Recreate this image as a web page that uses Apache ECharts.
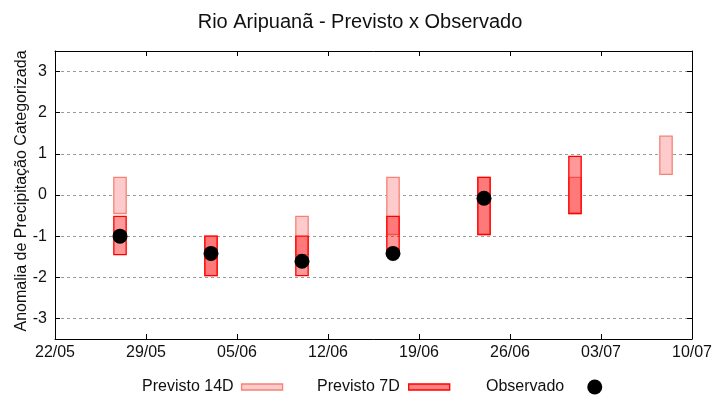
<!DOCTYPE html>
<html>
<head>
<meta charset="utf-8">
<script src="https://cdn.jsdelivr.net/npm/echarts@6/dist/echarts.min.js"></script>
<style>html,body{margin:0;padding:0;background:#fff}#c{width:720px;height:400px}</style>
</head>
<body>
<div id="c"></div>
<script>
// ---- data ----
const startDate = '22/05';
const endDate = '10/07';
const weekDates = ['27/05', '03/06', '10/06', '17/06', '24/06', '01/07', '08/07'];
const prev14Low  = [-0.45, -1.96, -1.45, -0.96, -0.96, -0.45, 0.50];
const prev14High = [ 0.43, -1.00, -0.52,  0.43,  0.43,  0.43, 1.43];
const prev7Low   = [-1.45, -1.96, -1.96, -1.45, -0.96, -0.45, null];
const prev7High  = [-0.52, -1.00, -1.00, -0.52,  0.43,  0.94, null];
const observed   = [-1.00, -1.42, -1.61, -1.42, -0.08, null, null];

const YEAR = 2025;
function toDay(s) {
  const [d, m] = s.split('/').map(Number);
  const t0 = Date.UTC(YEAR, Number(startDate.split('/')[1]) - 1, Number(startDate.split('/')[0]));
  return Math.round((Date.UTC(YEAR, m - 1, d) - t0) / 86400000);
}
function fromDay(n) {
  const [d0, m0] = startDate.split('/').map(Number);
  const dt = new Date(Date.UTC(YEAR, m0 - 1, d0) + n * 86400000);
  return String(dt.getUTCDate()).padStart(2, '0') + '/' + String(dt.getUTCMonth() + 1).padStart(2, '0');
}
const xs = weekDates.map(toDay);
const xMax = toDay(endDate);

const c14 = { fill: '#fdcbcb', border: '#f58275' };
const c7 = { fill: 'rgba(255,0,0,0.40)', border: '#ff0000' };

function boxSeries(name, lows, highs, col) {
  const data = [];
  xs.forEach((x, i) => { if (lows[i] != null) data.push([x, lows[i], highs[i]]); });
  return {
    name, type: 'custom', xAxisIndex: 0, yAxisIndex: 0,
    itemStyle: { color: col.fill, borderColor: col.border },
    renderItem(params, api) {
      const x = api.value(0);
      const p1 = api.coord([x, api.value(2)]);
      const p2 = api.coord([x, api.value(1)]);
      const w = api.size([0.95, 0])[0];
      return {
        type: 'rect',
        shape: { x: p1[0] - w / 2, y: p1[1], width: w, height: p2[1] - p1[1] },
        style: { fill: col.fill, stroke: col.border, lineWidth: 1.3 }
      };
    },
    encode: { x: 0, y: [1, 2] },
    data
  };
}

const obsData = [];
xs.forEach((x, i) => { if (observed[i] != null) obsData.push([x, observed[i]]); });

const txt = '#111';
const chart = echarts.init(document.getElementById('c'), null, { renderer: 'canvas' });
const legendBase = { orient: 'horizontal', align: 'right', padding: 0, top: 379, itemGap: 0,
  textStyle: { fontSize: 16, color: txt, fontFamily: 'Liberation Sans' } };
const frameLine = { show: true, onZero: false, lineStyle: { color: '#000', width: 1 } };
const frameTick = { show: true, inside: true, length: 5, lineStyle: { color: '#000' } };
chart.setOption({
  animation: false,
  backgroundColor: '#fff',
  title: { text: 'Rio Aripuanã - Previsto x Observado', left: 'center', top: 7,
    textStyle: { fontSize: 20, fontWeight: 'normal', color: txt, fontFamily: 'Liberation Sans' } },
  grid: { left: 55, right: 28, top: 51, bottom: 61, show: false },
  legend: [
    Object.assign({}, legendBase, { left: 142, itemWidth: 41, itemHeight: 6,
      textStyle: Object.assign({}, legendBase.textStyle, { padding: [0, 3, 0, 0] }),
      data: [{ name: 'Previsto 14D', icon: 'rect', itemStyle: { color: c14.fill, borderColor: c14.border, borderWidth: 1.3 } }] }),
    Object.assign({}, legendBase, { left: 317, itemWidth: 41, itemHeight: 6,
      textStyle: Object.assign({}, legendBase.textStyle, { padding: [0, 4, 0, 0] }),
      data: [{ name: 'Previsto 7D', icon: 'rect', itemStyle: { color: '#ff8080', borderColor: c7.border, borderWidth: 1.3 } }] }),
    Object.assign({}, legendBase, { left: 486, itemWidth: 15, itemHeight: 15,
      textStyle: Object.assign({}, legendBase.textStyle, { padding: [0, 18, 0, 0] }),
      data: [{ name: 'Observado', icon: 'circle', itemStyle: { color: '#000', opacity: 1 } }] })
  ],
  xAxis: [
    { type: 'value', position: 'bottom', min: 0, max: xMax, interval: 7,
      axisLine: frameLine, axisTick: frameTick,
      axisLabel: { formatter: v => fromDay(v), color: txt, fontSize: 16, margin: 6,
        fontFamily: '"Liberation Sans Narrow", "Liberation Sans"' },
      splitLine: { show: false } },
    { type: 'value', position: 'top', min: 0, max: xMax, interval: 7,
      axisLine: frameLine, axisTick: frameTick,
      axisLabel: { show: false }, splitLine: { show: false } }
  ],
  yAxis: [
    { type: 'value', position: 'left', min: -3.5, max: 3.5, splitNumber: 7,
      name: 'Anomalia de Precipitação Categorizada', nameLocation: 'middle', nameGap: 25,
      nameMoveOverlap: false,
      nameTextStyle: { fontSize: 16, color: txt, fontFamily: 'Liberation Sans', padding: [0, 0, 0, 8] },
      axisLine: frameLine, axisTick: frameTick,
      axisLabel: { formatter: v => Number.isInteger(v) ? String(v) : '', color: txt, fontSize: 16, margin: 8,
        fontFamily: 'Liberation Sans', showMinLabel: false, showMaxLabel: false },
      splitLine: { show: true, lineStyle: { color: '#9a9a9a', type: [3, 3], width: 1 } } },
    { type: 'value', position: 'right', min: -3.5, max: 3.5, splitNumber: 7,
      axisLine: frameLine, axisTick: frameTick,
      axisLabel: { show: false }, splitLine: { show: false } }
  ],
  series: [
    boxSeries('Previsto 14D', prev14Low, prev14High, c14),
    boxSeries('Previsto 7D', prev7Low, prev7High, c7),
    { name: 'Observado', type: 'scatter', xAxisIndex: 0, yAxisIndex: 0, symbol: 'circle', symbolSize: 15,
      itemStyle: { color: '#000', opacity: 1 }, data: obsData, z: 5 }
  ]
});
</script>
</body>
</html>
